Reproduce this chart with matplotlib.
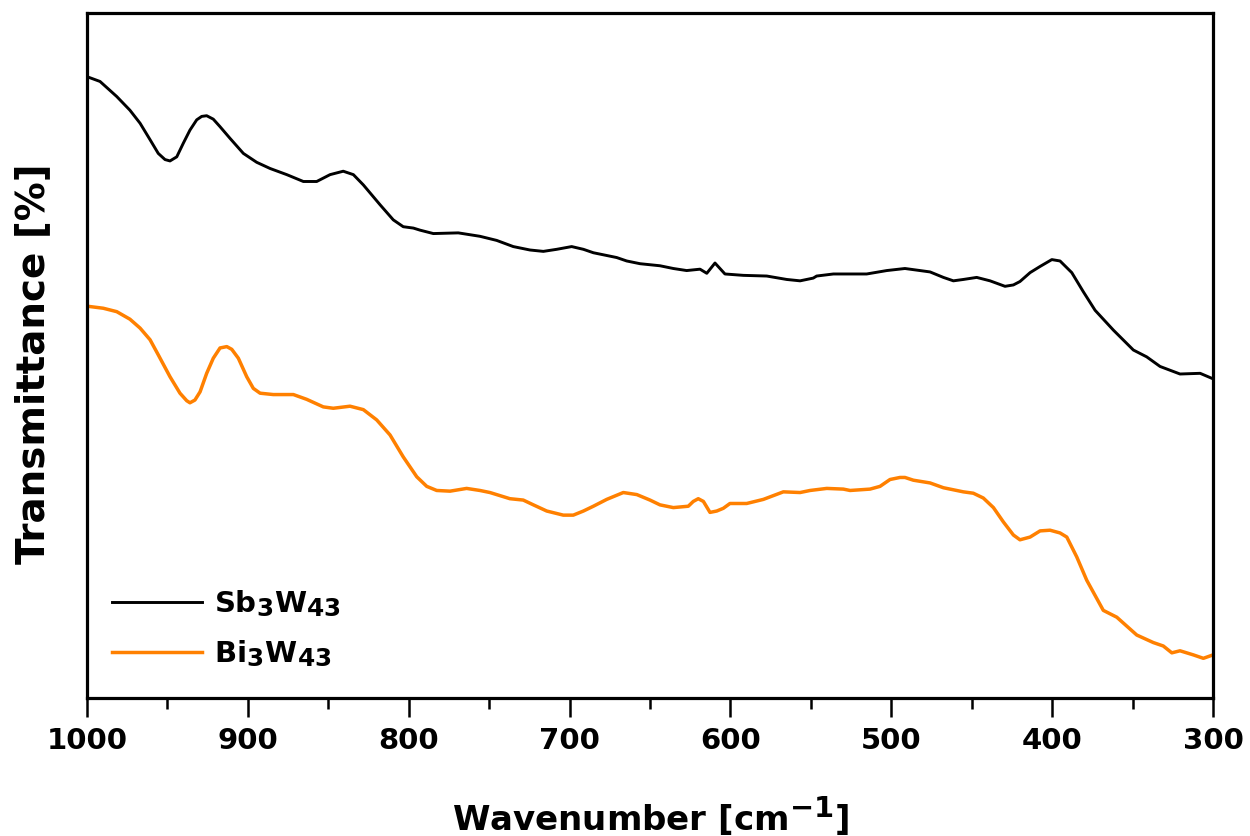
import matplotlib
matplotlib.use("Agg")
import matplotlib.pyplot as plt
try:
    import matplotlib._mathtext as _mt
    _mt.SHRINK_FACTOR = 0.85
except Exception:
    pass

# Sb3W43 (black) - wavenumber [cm-1], transmittance (arb. units)
sb_wn = [1000, 991.9, 981.5, 973.3, 967.0, 960.8, 955.7, 951.5, 948.4, 944.2,
         940.1, 936.0, 931.8, 928.7, 925.6, 921.5, 917.3, 911.1, 902.8, 894.5,
         886.2, 875.8, 865.5, 857.2, 848.9, 840.7, 834.4, 828.2, 817.8, 809.6,
         803.4, 797.1, 793.0, 784.7, 769.2, 755.7, 745.3, 735.0, 724.6, 716.3,
         708.0, 698.7, 691.4, 685.2, 670.7, 664.5, 656.2, 643.8, 635.5, 627.2,
         618.9, 614.7, 609.6, 603.4, 592.0, 577.4, 565.0, 556.7, 548.5, 546.4,
         536.0, 525.6, 515.3, 502.8, 491.5, 475.9, 467.6, 461.4, 455.2, 446.9,
         438.6, 429.3, 424.1, 420.0, 413.7, 407.5, 400.2, 395.1, 387.8, 380.6,
         373.3, 361.9, 349.5, 341.2, 332.9, 320.5, 308.0, 300.0]
sb_t = [90.7, 90.0, 87.8, 85.8, 83.9, 81.5, 79.5, 78.6, 78.4, 79.0,
        81.0, 82.9, 84.4, 84.9, 85.0, 84.5, 83.4, 81.7, 79.5, 78.2,
        77.3, 76.4, 75.4, 75.4, 76.4, 76.9, 76.4, 74.9, 72.0, 69.8,
        68.8, 68.6, 68.3, 67.8, 67.9, 67.4, 66.8, 65.9, 65.4, 65.2,
        65.5, 65.9, 65.5, 65.0, 64.3, 63.8, 63.4, 63.1, 62.7, 62.4,
        62.6, 62.0, 63.5, 61.9, 61.7, 61.6, 61.1, 60.9, 61.3, 61.6,
        61.9, 61.9, 61.9, 62.4, 62.7, 62.2, 61.4, 60.9, 61.1, 61.4,
        60.9, 60.1, 60.3, 60.8, 62.1, 63.0, 64.0, 63.8, 62.1, 59.3,
        56.6, 53.7, 50.8, 49.8, 48.4, 47.3, 47.4, 46.6]

# Bi3W43 (orange)
bi_wn = [1000, 989.9, 981.5, 973.3, 967.0, 960.8, 955.7, 948.4, 942.2, 938.0,
         936.0, 932.9, 929.7, 925.6, 921.5, 917.3, 913.1, 910.0, 905.9, 900.7,
         896.6, 892.4, 884.2, 871.7, 863.4, 853.1, 846.9, 836.5, 828.2, 819.9,
         811.6, 803.4, 795.0, 788.8, 782.6, 774.3, 764.0, 755.7, 749.5, 737.1,
         728.8, 722.5, 714.2, 703.9, 697.7, 691.4, 685.2, 676.9, 666.6, 658.2,
         650.0, 643.8, 635.5, 626.2, 623.1, 620.0, 616.8, 612.7, 608.5, 604.4,
         600.3, 589.9, 579.5, 567.1, 556.7, 550.5, 540.1, 529.8, 525.6, 513.2,
         507.0, 500.8, 494.6, 491.5, 486.3, 475.9, 467.6, 455.2, 449.0, 442.8,
         436.5, 430.3, 424.1, 420.0, 413.7, 407.5, 401.3, 395.1, 390.9, 384.7,
         378.5, 368.2, 359.8, 347.4, 337.1, 330.9, 325.6, 320.5, 312.2, 306.0,
         300.0]
bi_t = [57.2, 56.9, 56.4, 55.3, 54.0, 52.3, 50.1, 46.9, 44.5, 43.4,
        43.1, 43.5, 44.7, 47.4, 49.6, 51.1, 51.3, 50.9, 49.6, 46.9,
        45.2, 44.5, 44.3, 44.3, 43.6, 42.5, 42.3, 42.6, 42.1, 40.6,
        38.4, 35.2, 32.3, 30.9, 30.3, 30.2, 30.6, 30.3, 30.0, 29.1,
        28.9, 28.2, 27.3, 26.7, 26.7, 27.3, 28.0, 29.0, 30.0, 29.7,
        28.9, 28.2, 27.8, 28.0, 28.7, 29.1, 28.7, 27.1, 27.3, 27.7,
        28.4, 28.4, 29.0, 30.1, 30.0, 30.3, 30.6, 30.5, 30.3, 30.5,
        30.9, 31.9, 32.2, 32.2, 31.8, 31.4, 30.7, 30.1, 29.9, 29.2,
        27.8, 25.7, 23.8, 23.1, 23.5, 24.4, 24.5, 24.1, 23.5, 20.6,
        17.2, 12.8, 11.8, 9.2, 8.1, 7.6, 6.6, 6.9, 6.3, 5.8,
        6.3]

labels = ['Sb$_{\\mathbf{3}}$W$_{\\mathbf{43}}$', 'Bi$_{\\mathbf{3}}$W$_{\\mathbf{43}}$']
xticks = [1000, 900, 800, 700, 600, 500, 400, 300]
minor_xticks = [950, 850, 750, 650, 550, 450, 350]

plt.rcParams['font.family'] = ['DejaVu Sans']
plt.rcParams['font.weight'] = 'bold'
plt.rcParams['mathtext.fontset'] = 'custom'
plt.rcParams['mathtext.rm'] = 'DejaVu Sans:bold'
plt.rcParams['mathtext.bf'] = 'DejaVu Sans:bold'

fig = plt.figure(figsize=(12.5, 8.36), dpi=100)
ax = fig.add_axes([0.0696, 0.165, 0.9008, 0.8195])

ax.plot(sb_wn, sb_t, color='black', lw=2.1, label=labels[0])
ax.plot(bi_wn, bi_t, color='#FF8000', lw=2.5, label=labels[1])

ax.set_xlim(1000, 300)
ax.set_ylim(0, 100)
ax.set_xticks(xticks)
ax.set_xticks(minor_xticks, minor=True)
ax.set_yticks([])
ax.tick_params(axis='x', which='major', direction='out', length=14, width=1.8,
               labelsize=21, pad=7)
ax.tick_params(axis='x', which='minor', direction='out', length=8, width=1.8)
for lab in ax.get_xticklabels():
    lab.set_fontweight('bold')
for s in ax.spines.values():
    s.set_linewidth(2.3)

ax.set_xlabel('Wavenumber [cm$^{\\mathbf{-1}}$]', fontsize=24.5, fontweight='bold', labelpad=28)
ax.set_ylabel('Transmittance [%]', fontsize=28, fontweight='bold')
ax.yaxis.set_label_coords(-0.031, 0.488)

leg = ax.legend(loc='lower left', bbox_to_anchor=(0.022, 0.0425), frameon=False,
                prop={'size': 21, 'weight': 'bold'}, handlelength=3.1,
                handletextpad=0.4, labelspacing=0.66, borderpad=0, borderaxespad=0)

fig.savefig('out.png', dpi=100)
